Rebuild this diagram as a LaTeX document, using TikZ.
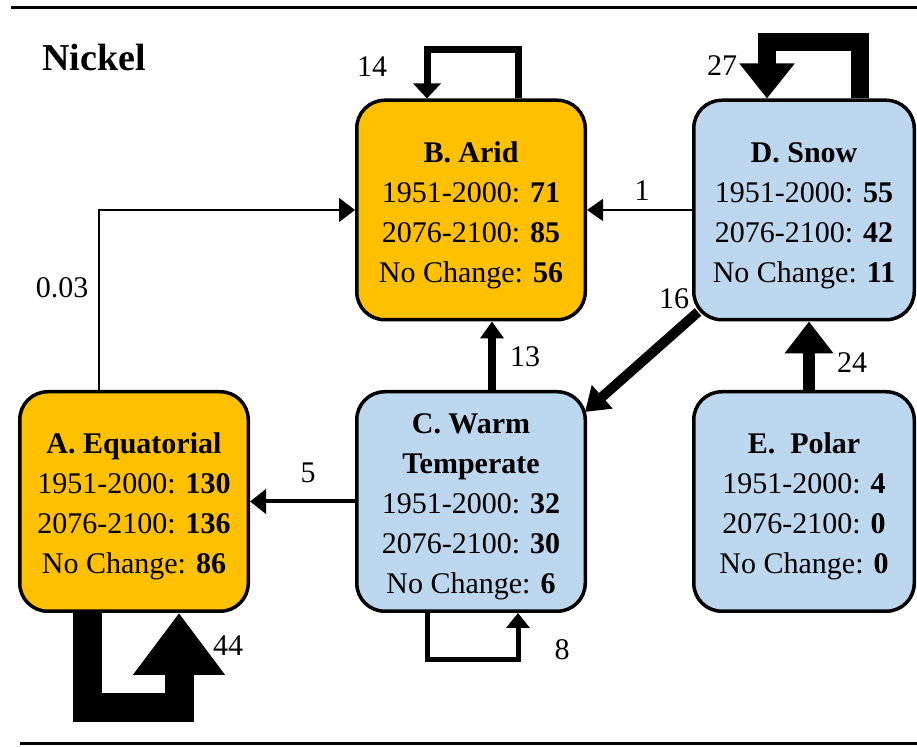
\documentclass[tikz,border=0pt]{standalone}
\usepackage{fontspec}
\setmainfont{Liberation Serif}
\usetikzlibrary{arrows.meta}
\definecolor{dryzone}{HTML}{FFC000}
\definecolor{coldzone}{HTML}{BDD7EE}
\newcommand{\zonehead}[1]{\rule{0pt}{31pt}\textbf{#1}}

\begin{document}
\begin{tikzpicture}[x=1pt,y=1pt,
    zone/.style={draw, line width=3.5pt, rounded corners=28pt, align=center,
      minimum height=219.5pt, inner sep=0pt, font=\fontsize{30}{40}\selectfont},
    dry/.style={zone, fill=dryzone, minimum width=228.5pt},
    cold/.style={zone, fill=coldzone, minimum width=228.5pt},
    lbl/.style={font=\fontsize{30}{36}\selectfont, inner sep=0pt},
    flow/.style args={#1/#2/#3}{line width=#1pt, -{Triangle[length=#3pt,width=#2pt]}}]
    \useasboundingbox (0,0) rectangle (917,746);
    % rules top and bottom
    \draw[line width=3pt] (11,738.5) -- (917,738.5);
    \draw[line width=3pt] (20,2.5) -- (917,2.5);
    \node[font=\fontsize{38}{40}\selectfont\bfseries] (title) at (94,688) {Nickel};
    % climate zones
    \node[dry] (equat) at (134,244.5) {\zonehead{A. Equatorial}\\1951-2000: \textbf{130}\\2076-2100: \textbf{136}\\No Change: \textbf{86}};
    \node[dry] (arid) at (471,536) {\zonehead{B. Arid}\\1951-2000: \textbf{71}\\2076-2100: \textbf{85}\\No Change: \textbf{56}};
    \node[cold] (warm) at (471,244.5) {\zonehead{C. Warm}\\\textbf{Temperate}\\1951-2000: \textbf{32}\\2076-2100: \textbf{30}\\No Change: \textbf{6}};
    \node[cold, minimum width=220.5pt] (snow) at (804,536) {\zonehead{D. Snow}\\1951-2000: \textbf{55}\\2076-2100: \textbf{42}\\No Change: \textbf{11}};
    \node[cold, minimum width=220.5pt] (polar) at (804,244.5) {\zonehead{E.\ \ Polar}\\1951-2000: \textbf{4}\\2076-2100: \textbf{0}\\No Change: \textbf{0}};
    % transitions
    \draw[flow=7/27/15] ([xshift=47]arid.north) -- ++(0,49) -| ([xshift=-44]arid.north);
    \draw[flow=18/53/35] ([xshift=56]snow.north) -- ++(0,56) -| ([xshift=-37]snow.north);
    \draw[flow=5/23/15] ([xshift=-44]warm.south) -- ++(0,-47) -| ([xshift=47]warm.south);
    \draw[flow=29/88/62] ([xshift=-46.5]equat.south) -- ++(0,-95) -| ([xshift=45]equat.south);
    \draw[flow=8/23/17] ([xshift=21]warm.north) -- ([xshift=21]arid.south);
    \draw[flow=12/47/32] ([xshift=5]polar.north) -- ([xshift=5]snow.south);
    \draw[flow=1.5/22/16] (snow.west) -- (arid.east);
    \draw[flow=1.5/24/16] ([xshift=-35]equat.north) |- (arid.west);
    \draw[flow=4/24/16] (warm.west) -- (equat.east);
    \draw[flow=10/30/23] ([xshift=6,yshift=9.5]snow.south west) -- ([xshift=-2,yshift=-22]warm.north east);
    % counts
    \node[lbl] (n14) at (372,679) {14};
    \node[lbl] (n27) at (722,680) {27};
    \node[lbl] (n003) at (62,458) {0.03};
    \node[lbl] (n1) at (642,555) {1};
    \node[lbl] (n13) at (525,389) {13};
    \node[lbl] (n16) at (674,447) {16};
    \node[lbl] (n24) at (852,383) {24};
    \node[lbl] (n5) at (308,273) {5};
    \node[lbl] (n8) at (562,96) {8};
    \node[lbl] (n44) at (228,100) {44};
\end{tikzpicture}
\end{document}
